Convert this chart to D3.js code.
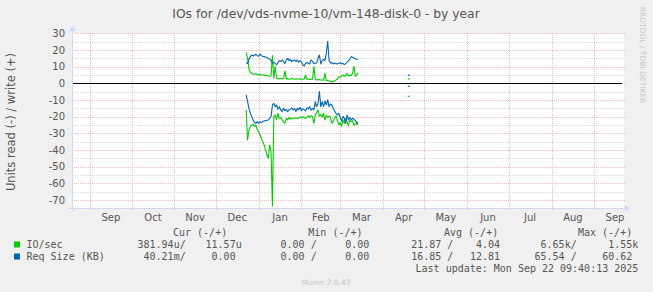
<!DOCTYPE html>
<html>
<head>
<meta charset="utf-8">
<script src="https://cdn.jsdelivr.net/npm/d3@7"></script>
<style>
html, body { margin: 0; padding: 0; background: #f0f0f0; }
svg { display: block; }
text { font-family: "DejaVu Sans", sans-serif; }
.mono { font-family: "DejaVu Sans Mono", monospace; }
</style>
</head>
<body>
<svg id="chart"></svg>
<script>
// values, one value per day from firstDay
var title = "IOs for /dev/vds-nvme-10/vm-148-disk-0 - by year";
var yLabel = "Units read (-) / write (+)";
var firstDay = "2024-12-23";

var ioWrite = [18.6, 15.0, 9.0, 6.5, 6.0, 5.6, 5.4, 5.8, 5.2, 5.0,
    5.4, 5.0, 4.8, 5.2, 4.6, 4.8, 4.4, 4.2, 4.6, 16.6,
    3.2, 10.0, 3.0, 2.8, 2.6, 3.0, 2.6, 2.8, 7.4, 2.6,
    2.8, 2.4, 2.6, 3.0, 2.6, 2.4, 2.8, 2.6, 2.4, 2.8,
    2.6, 2.4, 2.6, 5.0, 2.4, 2.6, 2.2, 2.6, 2.4, 10.0,
    2.6, 2.0, 2.2, 2.2, 2.0, 2.0, 1.8, 6.0, 1.6, 1.8,
    1.4, 1.0, 1.2, 1.0, 1.4, 2.0, 2.4, 4.0, 3.6, 4.4,
    5.0, 4.2, 4.6, 6.0, 4.4, 5.0, 4.6, 6.0, 10.2, 4.2,
    5.0, 6.2];
var ioRead = [16, 34, 28, 26, 25, 24.6, 26, 25, 28, 29,
    31, 33, 35, 37, 40, 43, 45, 37, 41, 73.6,
    20, 19, 22, 18, 21, 20.6, 22, 23, 24, 21,
    22, 20.4, 21.6, 20.8, 21.2, 21, 20.6, 21.2, 20.8, 20.2,
    20.6, 20, 20.4, 21.2, 20.2, 19.6, 20.4, 19.4, 20, 24,
    19, 17.6, 16, 19.8, 18.6, 20.4, 18, 22, 19.2, 20.4,
    19.6, 20.2, 24, 23, 21, 19.6, 22, 25, 23.6, 25.8,
    22, 24, 21, 23, 25.6, 22, 23, 22.4, 25, 24.6,
    23.6, 25];
var reqWrite = [12.4, 11.8, 14.5, 16.0, 17.0, 16.4, 16.8, 17.4, 16.6, 16.2,
    17.6, 16.6, 16.2, 16.0, 15.8, 15.4, 15.0, 14.6, 13.8, 12.2,
    12.6, 11.8, 11.2, 12.4, 13.6, 13.0, 14.0, 13.2, 11.8, 14.0,
    15.0, 13.6, 14.4, 13.0, 13.8, 14.0, 13.0, 14.0, 12.6, 13.6,
    12.8, 11.0, 10.4, 12.0, 12.4, 12.2, 11.6, 14.0, 13.2, 11.8,
    12.0, 12.4, 15.0, 17.0, 11.6, 13.6, 14.4, 13.6, 18.0, 25.2,
    14.0, 12.2, 12.4, 11.6, 12.0, 11.8, 11.6, 12.0, 12.4, 11.6,
    12.0, 11.2, 11.8, 12.6, 13.4, 14.4, 16.0, 15.6, 15.2, 14.6,
    14.4, 14.4];
var reqRead = [7, 11, 15, 18, 20, 22, 23.5, 24, 23, 24,
    23, 23.6, 23, 22.6, 22.4, 22.2, 22, 21, 20, 13,
    12, 14, 13, 15.6, 14, 16, 17, 15, 16.4, 15.6,
    17, 16, 15.6, 14.8, 16, 15, 17, 15, 16, 14.4,
    16.4, 15.2, 15.8, 16.6, 14.6, 15.4, 14, 16.2, 15, 16,
    11, 14, 12, 5, 14, 11, 14, 10.6, 13, 10,
    14, 12.4, 13, 15, 16.6, 18, 19, 18, 20.4, 22.6,
    19.8, 21, 24, 19, 22, 20.6, 21.8, 21, 21.6, 22.4,
    23.4, 23.8];

// one isolated day later on: ioWrite, ioRead, reqWrite, reqRead
var loneDay = "2025-04-19";
var loneValues = [2.6, 7.8, 4.8, 1.8];

var yTicks = [-70, -60, -50, -40, -30, -20, -10, 0, 10, 20, 30];
var lastUpdate = new Date(2025, 8, 22, 9, 40, 13);

var legendNames = ["IO/sec", "Req Size (KB)"];
var legendColors = ["#00cc00", "#0066b3"];
var legendHeads = ["Cur (-/+)", "Min (-/+)", "Avg (-/+)", "Max (-/+)"];
var legendCur = [["381.94u", "11.57u"], ["40.21m", "0.00"]];
var legendMin = [["0.00", "0.00"], ["0.00", "0.00"]];
var legendAvg = [["21.87", "4.04"], ["16.85", "12.81"]];
var legendMax = [["6.65k", "1.55k"], ["65.54", "60.62"]];

var W = 653, H = 292;
var svg = d3.select("#chart").attr("width", W).attr("height", H);

var plotLeft = 71.3, plotRight = 623.9, plotTop = 33.3, plotBottom = 208.3;

var x = d3.scaleTime()
    .domain([d3.timeDay.offset(lastUpdate, -400), lastUpdate])
    .range([plotLeft, plotRight]);
var y = d3.scaleLinear().domain([-75, 30]).range([plotBottom, plotTop]);

var px = function(v) { return Math.round(v) + 0.5; };

// canvas
svg.append("rect")
    .attr("x", 72).attr("y", Math.round(plotTop))
    .attr("width", Math.round(plotRight) - 72)
    .attr("height", Math.round(plotBottom) - Math.round(plotTop))
    .attr("fill", "#ffffff");

// horizontal grid
var minor = d3.range(-75, 31, 5).filter(d => d % 10 != 0 && d > -75);
svg.selectAll(".hmin").data(minor).enter().append("line")
    .attr("x1", 72).attr("x2", 626)
    .attr("y1", d => px(y(d))).attr("y2", d => px(y(d)))
    .attr("stroke", "#d9d9d9").attr("stroke-dasharray", "1,1");
svg.selectAll(".hmaj").data(yTicks).enter().append("line")
    .attr("x1", 72).attr("x2", 626)
    .attr("y1", d => px(y(d))).attr("y2", d => px(y(d)))
    .attr("stroke", "#f3bcbc").attr("stroke-dasharray", "1,1");

// month grid
var months = d3.timeMonth.range(d3.timeMonth.ceil(x.domain()[0]), x.domain()[1]);
svg.selectAll(".vmaj").data(months).enter().append("line")
    .attr("x1", d => px(x(d))).attr("x2", d => px(x(d)))
    .attr("y1", Math.round(plotTop)).attr("y2", Math.round(plotBottom) + 3)
    .attr("stroke", "#f3bcbc").attr("stroke-dasharray", "1,1");

// month labels in the middle of each month
svg.selectAll(".mlab").data(months).enter().append("text")
    .attr("x", d => (x(d) + x(d3.timeMonth.offset(d, 1))) / 2)
    .attr("y", 221)
    .attr("text-anchor", "middle")
    .attr("font-size", "10px")
    .attr("fill", "#555")
    .text(d => d3.timeFormat("%b")(d));

// y labels
svg.selectAll(".ylab").data(yTicks).enter().append("text")
    .attr("x", 65)
    .attr("y", d => y(d) + 3.6)
    .attr("text-anchor", "end")
    .attr("font-size", "10px")
    .attr("fill", "#555")
    .text(d => d);

// zero line
svg.append("line")
    .attr("x1", 72).attr("x2", 622)
    .attr("y1", px(y(0))).attr("y2", px(y(0)))
    .attr("stroke", "#000");

// series
var series = [
    {color: legendColors[0], vals: ioWrite, sign: 1},
    {color: legendColors[0], vals: ioRead, sign: -1},
    {color: legendColors[1], vals: reqWrite, sign: 1},
    {color: legendColors[1], vals: reqRead, sign: -1}
];
var start = d3.timeParse("%Y-%m-%d")(firstDay);
var lone = d3.timeParse("%Y-%m-%d")(loneDay);

var line = d3.line()
    .x((d, i) => x(d3.timeDay.offset(start, i)))
    .y(d => y(d));

series.forEach(function(s, k) {
    svg.append("path")
        .attr("d", line(s.vals.map(v => v * s.sign)))
        .attr("fill", "none")
        .attr("stroke", s.color)
        .attr("stroke-width", 1.1)
        .attr("stroke-linejoin", "round");
    svg.append("line")
        .attr("x1", x(lone)).attr("x2", x(d3.timeDay.offset(lone, 1)) + 0.6)
        .attr("y1", y(loneValues[k] * s.sign)).attr("y2", y(loneValues[k] * s.sign))
        .attr("stroke", s.color).attr("stroke-width", 1.2);
});

// axes with arrows
var axisColor = "#cfd6f8";
svg.append("line")
    .attr("x1", 68).attr("x2", 626)
    .attr("y1", px(plotBottom)).attr("y2", px(plotBottom))
    .attr("stroke", axisColor);
svg.append("line")
    .attr("x1", 72.5).attr("x2", 72.5)
    .attr("y1", 212).attr("y2", 30)
    .attr("stroke", axisColor);
svg.append("path")
    .attr("d", `M625,${px(plotBottom) - 3.5}L630,${px(plotBottom)}L625,${px(plotBottom) + 3.5}Z`)
    .attr("fill", axisColor);
svg.append("path")
    .attr("d", "M69,31L72.5,26L76,31Z")
    .attr("fill", axisColor);

// title and side texts
svg.append("text")
    .attr("x", 326).attr("y", 18)
    .attr("text-anchor", "middle")
    .attr("font-size", "12.3px")
    .attr("fill", "#555")
    .text(title);

svg.append("text")
    .attr("transform", "translate(14.5, 122) rotate(-90)")
    .attr("text-anchor", "middle")
    .attr("font-size", "11.5px")
    .attr("fill", "#555")
    .text(yLabel);

svg.append("text")
    .attr("transform", "translate(640, 55) rotate(90)")
    .attr("text-anchor", "middle")
    .attr("font-size", "7.5px")
    .attr("fill", "#c8c8c8")
    .text("RRDTOOL / TOBI OETIKER");

svg.append("text")
    .attr("x", 326).attr("y", 285)
    .attr("text-anchor", "middle")
    .attr("font-size", "7.5px")
    .attr("fill", "#c8c8c8")
    .text("Munin 2.0.42");

// legend
var headX = [173, 308.3, 444, 578];
svg.selectAll(".lhead").data(legendHeads).enter().append("text")
    .attr("class", "mono")
    .attr("x", (d, i) => headX[i]).attr("y", 235.5)
    .attr("font-size", "10px")
    .attr("fill", "#555")
    .text(d => d);

var unitPad = function(s) { return /[0-9]$/.test(s) ? s + " " : s; };
var colEnds = [185.7, 241.7, 316.7, 375.3, 453.3, 506, 576.7, 638.3];
var rowY = [247.5, 259.5];

legendNames.forEach(function(name, r) {
    svg.append("rect")
        .attr("x", 14).attr("y", rowY[r] - 6)
        .attr("width", 6).attr("height", 6)
        .attr("fill", legendColors[r]);
    svg.append("text")
        .attr("class", "mono")
        .attr("x", 26.5).attr("y", rowY[r])
        .attr("font-size", "10px")
        .attr("fill", "#555")
        .text(name);
    var cells = [];
    [legendCur, legendMin, legendAvg, legendMax].forEach(function(col) {
        cells.push(unitPad(col[r][0]) + "/");
        cells.push(unitPad(col[r][1]));
    });
    cells.forEach(function(c, i) {
        svg.append("text")
            .attr("class", "mono")
            .attr("xml:space", "preserve")
            .attr("x", colEnds[i]).attr("y", rowY[r])
            .attr("text-anchor", "end")
            .attr("font-size", "10px")
            .attr("fill", "#555")
            .text(c);
    });
});

svg.append("text")
    .attr("class", "mono")
    .attr("x", 638.3).attr("y", 271.5)
    .attr("text-anchor", "end")
    .attr("font-size", "10px")
    .attr("fill", "#555")
    .text("Last update: " + d3.timeFormat("%a %b %d %H:%M:%S %Y")(lastUpdate));
</script>
</body>
</html>
